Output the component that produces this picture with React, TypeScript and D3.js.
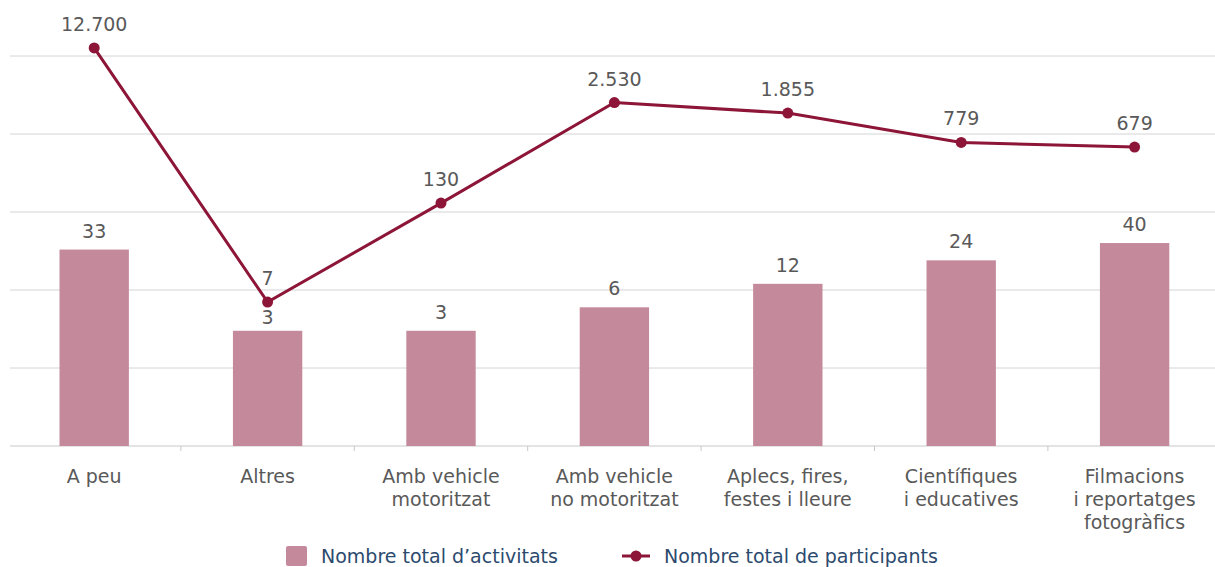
import React from 'react';
import * as d3 from 'd3';

const categories = [
  ['A peu'],
  ['Altres'],
  ['Amb vehicle', 'motoritzat'],
  ['Amb vehicle', 'no motoritzat'],
  ['Aplecs, fires,', 'festes i lleure'],
  ['Científiques', 'i educatives'],
  ['Filmacions', 'i reportatges', 'fotogràfics'],
];
const activitats = [33, 3, 3, 6, 12, 24, 40];
const participants = [12700, 7, 130, 2530, 1855, 779, 679];
const gridValues = [0.1, 1, 10, 100, 1000, 10000];

const width = 1215;
const height = 567;
const font = 'DejaVu Sans, Verdana, sans-serif';
const barColor = '#c4899a';
const lineColor = '#8c1538';
const textColor = '#595959';
const fs = 19;

const fmt = (v: number) => d3.format(',d')(v).replace(/,/g, '.');

export default function App() {
  const x = d3.scaleBand<number>()
    .domain(d3.range(categories.length))
    .range([7.5, 7.5 + 173.4 * categories.length])
    .paddingInner(0.6)
    .paddingOuter(0.3);
  const step = x.step();
  const y = d3.scaleLog().domain([0.1, 10000]).range([446, 56]);
  const cx = (i: number) => x(i)! + x.bandwidth() / 2;

  const line = d3.line<number>()
    .x((_, i) => cx(i))
    .y(d => y(d));

  return (
    <svg width={width} height={height} style={{ position: 'absolute', left: 0, top: 0 }} fontFamily={font}>
      {gridValues.map(v => (
        <line key={v} x1={10} x2={1215} y1={y(v)} y2={y(v)} stroke={v === 0.1 ? '#c8c8c8' : '#d4d4d4'} strokeWidth={1} />
      ))}
      {d3.range(1, categories.length).map(i => {
        const xx = x(i)! - (step - x.bandwidth()) / 2;
        return <line key={i} x1={xx} x2={xx} y1={446} y2={451} stroke="#c8c8c8" />;
      })}
      {activitats.map((v, i) => (
        <rect key={i} x={x(i)} y={y(v)} width={x.bandwidth()} height={446 - y(v)} fill={barColor} />
      ))}
      <path d={line(participants) || ''} fill="none" stroke={lineColor} strokeWidth={3} />
      {participants.map((v, i) => (
        <g key={i}>
          <circle cx={cx(i)} cy={y(v)} r={5.5} fill={lineColor} />
          <text x={cx(i)} y={y(v) - 17} textAnchor="middle" fontSize={fs} fill={textColor}>{fmt(v)}</text>
        </g>
      ))}
      {activitats.map((v, i) => (
        <text key={i} x={cx(i)} y={y(v) - (i === 1 ? 7 : 12)} textAnchor="middle" fontSize={fs} fill={textColor}>{v}</text>
      ))}
      {categories.map((lines, i) => (
        <text key={i} x={cx(i)} y={483} textAnchor="middle" fontSize={fs} fill={textColor}>
          {lines.map((l, j) => (
            <tspan key={j} x={cx(i)} dy={j === 0 ? 0 : 23}>{l}</tspan>
          ))}
        </text>
      ))}
      <g>
        <rect x={286} y={546} width={21} height={20} rx={2} fill={barColor} />
        <text x={321} y={563} fontSize={fs} fill="#2c4a6e">Nombre total d’activitats</text>
        <line x1={622} x2={650} y1={556} y2={556} stroke={lineColor} strokeWidth={3} />
        <circle cx={636} cy={556} r={5.5} fill={lineColor} />
        <text x={664} y={563} fontSize={fs} fill="#2c4a6e">Nombre total de participants</text>
      </g>
    </svg>
  );
}
